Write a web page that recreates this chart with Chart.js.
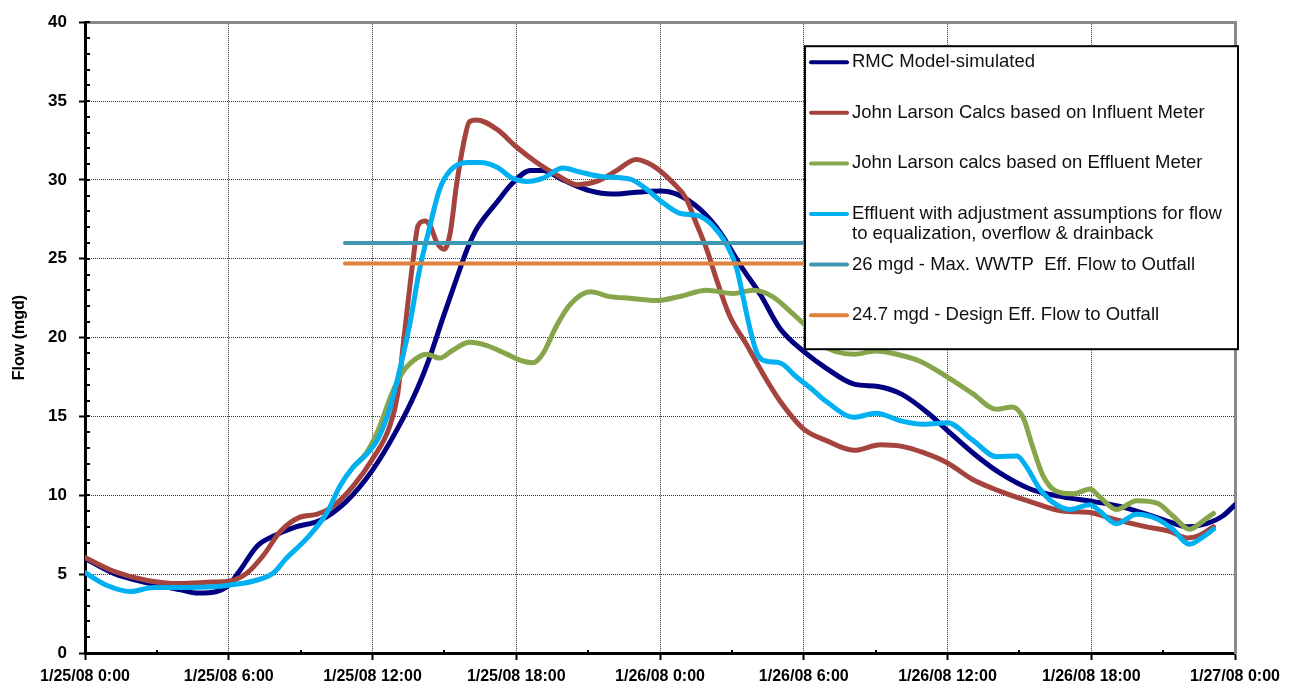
<!DOCTYPE html>
<html>
<head>
<meta charset="utf-8">
<title>Flow (mgd)</title>
<script src="https://cdn.jsdelivr.net/npm/chart.js@4.4.1/dist/chart.umd.min.js"></script>
<style>
  html, body { margin: 0; padding: 0; background: #fff; }
  #wrap { width: 1295px; height: 688px; }
</style>
</head>
<body>
<div id="wrap"><canvas id="flowChart" width="1295" height="688"></canvas></div>
<script>
// x values are hours after 1/25/08 0:00, y values are flow in mgd
const xTickLabels = [
  '1/25/08 0:00', '1/25/08 6:00', '1/25/08 12:00', '1/25/08 18:00',
  '1/26/08 0:00', '1/26/08 6:00', '1/26/08 12:00', '1/26/08 18:00',
  '1/27/08 0:00'
];

const seriesNames = [
  'RMC Model-simulated',
  'John Larson Calcs based on Influent Meter',
  'John Larson calcs based on Effluent Meter',
  'Effluent with adjustment assumptions for flow\nto equalization, overflow & drainback',
  '26 mgd - Max. WWTP  Eff. Flow to Outfall',
  '24.7 mgd - Design Eff. Flow to Outfall'
];

const rmcHours = [0, 1.2, 2.6, 4.0, 4.7, 5.5, 6.0, 6.45, 7.2, 7.85, 8.8, 9.8, 10.9, 12.0, 13.0, 13.85, 14.4, 14.95, 15.5, 15.95,
  16.35, 17.2, 17.85, 18.6, 19.1, 19.95, 21.1, 22.0, 22.9, 24.0, 24.7, 25.7, 26.5, 27.35, 28.2, 29.0, 30.1, 30.9, 32.1, 33.1,
  34.1, 35.2, 36.0, 37.05, 38.2, 39.45, 40.8, 42.1, 43.2, 44.3, 45.3, 46.0, 46.8, 47.5, 48];
const rmcFlow = [6.0, 5.05, 4.45, 4.0, 3.8, 3.9, 4.3, 5.2, 6.8, 7.4, 8.0, 8.4, 9.6, 11.6, 14.1, 16.7, 18.8, 21.3, 23.7, 25.6,
  26.9, 28.6, 29.8, 30.6, 30.6, 30.0, 29.3, 29.1, 29.2, 29.3, 29.1, 28.1, 26.7, 24.6, 22.7, 20.6, 19.0, 18.1, 17.05, 16.9,
  16.4, 15.2, 14.1, 12.7, 11.4, 10.4, 9.9, 9.6, 9.3, 8.8, 8.3, 8.0, 8.2, 8.7, 9.4];

const influentHours = [0, 1.17, 2.6, 3.95, 5.35, 6.0, 6.75, 7.45, 8.15, 8.95, 9.7, 10.35, 11.2, 12.0, 12.7, 13.05, 13.3, 13.7, 13.9, 14.2,
  14.4, 14.7, 15.0, 15.25, 15.5, 15.8, 16.05, 16.35, 17.2, 18.0, 18.85, 19.7, 20.55, 21.35, 22.2, 23.0, 23.7, 24.55, 25.1, 25.5,
  25.95, 26.4, 26.9, 27.6, 28.3, 29.0, 30.0, 30.9, 32.1, 33.2, 34.1, 35.0, 36.0, 37.05, 38.2, 39.45, 40.8, 42.0, 42.9, 44.3,
  45.3, 46.0, 46.5, 47.1];
const influentFlow = [6.05, 5.2, 4.6, 4.4, 4.5, 4.55, 5.05, 6.2, 7.7, 8.6, 8.8, 9.3, 10.6, 12.3, 14.3, 16.4, 19.8, 25.0, 27.1, 27.4,
  27.1, 26.0, 25.6, 26.7, 29.6, 32.3, 33.7, 33.8, 33.2, 32.1, 31.1, 30.3, 29.7, 29.9, 30.6, 31.3, 30.9, 29.8, 28.8, 27.3,
  25.6, 23.5, 21.4, 19.6, 17.7, 16.0, 14.2, 13.5, 12.85, 13.2, 13.1, 12.7, 12.05, 11.0, 10.25, 9.6, 9.0, 8.9, 8.5, 8.0,
  7.7, 7.3, 7.45, 8.0];

const effluentHours = [11.2, 11.75, 12.2, 12.85, 13.3, 13.85, 14.25, 14.8, 15.35, 16.05, 16.75, 17.6, 18.3, 18.7, 19.1, 19.7, 20.25, 21.1, 21.9, 22.75,
  23.85, 24.8, 25.95, 27.05, 27.9, 28.7, 29.55, 30.05, 30.8, 32.1, 33.0, 34.0, 34.85, 36.0, 37.05, 38.05, 38.7, 39.15, 39.55, 40.0,
  40.55, 41.25, 41.95, 42.35, 43.05, 43.9, 44.75, 45.4, 46.1, 46.65, 47.1];
const effluentFlow = [11.8, 12.7, 14.0, 16.6, 17.9, 18.7, 18.95, 18.7, 19.2, 19.7, 19.5, 18.95, 18.5, 18.4, 18.95, 20.8, 22.1, 22.9, 22.6, 22.5,
  22.35, 22.6, 23.0, 22.8, 23.0, 22.6, 21.5, 20.8, 19.5, 18.95, 19.15, 18.9, 18.5, 17.5, 16.45, 15.45, 15.6, 14.95, 13.1, 11.2,
  10.25, 10.1, 10.4, 9.9, 9.1, 9.65, 9.5, 8.7, 7.85, 8.35, 8.85];

const adjustedHours = [0, 0.9, 1.9, 2.85, 3.95, 5.35, 6.0, 7.0, 7.85, 8.4, 9.25, 10.1, 10.65, 11.2, 11.75, 12.2, 12.7, 13.0, 13.55, 13.95,
  14.4, 14.8, 15.25, 15.95, 16.5, 17.2, 17.85, 18.45, 19.1, 19.95, 20.65, 21.6, 22.75, 23.45, 24.0, 24.8, 25.65, 26.2, 26.8, 27.2,
  27.45, 27.75, 28.05, 28.45, 29.0, 29.7, 30.4, 30.9, 32.1, 33.0, 34.1, 35.0, 36.0, 37.05, 38.05, 38.9, 39.3, 39.85, 40.4, 41.1,
  41.95, 42.35, 43.05, 43.9, 44.75, 45.4, 46.1, 46.65, 47.1];
const adjustedFlow = [5.1, 4.3, 3.9, 4.15, 4.15, 4.2, 4.3, 4.55, 5.05, 6.0, 7.25, 8.9, 10.6, 11.8, 12.6, 13.5, 15.4, 17.1, 20.8, 24.2,
  27.1, 29.4, 30.6, 31.1, 31.1, 30.8, 30.1, 29.9, 30.1, 30.75, 30.5, 30.2, 30.05, 29.4, 28.7, 27.9, 27.7, 27.1, 25.85, 24.4,
  22.7, 20.6, 19.0, 18.5, 18.4, 17.5, 16.65, 16.0, 14.95, 15.2, 14.7, 14.5, 14.6, 13.5, 12.45, 12.5, 11.8, 10.4, 9.55, 9.1,
  9.4, 9.0, 8.2, 8.8, 8.5, 7.85, 6.9, 7.35, 7.85];

const limitHours = [10.85, 48];
const maxFlow = [26, 26];
const designFlow = [24.7, 24.7];

const colors = ['#000080', '#A5443F', '#87A54A', '#00B0F0', '#4197B0', '#E0813C'];

function pts(hours, flows) {
  return hours.map((h, i) => ({ x: h, y: flows[i] }));
}

function curve(i, hours, flows) {
  return {
    label: seriesNames[i],
    data: pts(hours, flows),
    borderColor: colors[i],
    backgroundColor: colors[i],
    borderWidth: 5,
    pointRadius: 0,
    cubicInterpolationMode: 'monotone',
    borderCapStyle: 'round',
    borderJoinStyle: 'round',
    order: 6 - i  // later series sit on top
  };
}

function level(i, flows) {
  return {
    label: seriesNames[i],
    data: pts(limitHours, flows),
    borderColor: colors[i],
    backgroundColor: colors[i],
    borderWidth: 4,
    pointRadius: 0,
    borderCapStyle: 'round',
    order: 6 - i
  };
}

// minor ticks + boxed legend inside the plot
const chartExtras = {
  id: 'chartExtras',
  beforeDatasetsDraw(chart) {
    const { ctx, scales: { x, y } } = chart;
    ctx.save();
    ctx.strokeStyle = '#000';
    ctx.lineWidth = 2;
    ctx.beginPath();
    for (let v = 0; v <= 40; v++) {
      const py = Math.round(y.getPixelForValue(v));
      ctx.moveTo(x.left, py);
      ctx.lineTo(x.left + 5, py);
    }
    for (let h = 3; h < 48; h += 6) {
      const px = Math.round(x.getPixelForValue(h));
      ctx.moveTo(px, y.bottom);
      ctx.lineTo(px, y.bottom - 3);
    }
    ctx.stroke();
    ctx.restore();
  },
  afterDraw(chart) {
    const { ctx, chartArea } = chart;
    const left = chartArea.right - 430;
    const top = chartArea.top + 24;
    const w = 433, h = 303;
    ctx.save();
    ctx.fillStyle = '#fff';
    ctx.fillRect(left, top, w, h);
    ctx.lineWidth = 2;
    ctx.strokeStyle = '#000';
    ctx.strokeRect(left, top, w, h);

    ctx.font = '18.5px Arial, "Liberation Sans", sans-serif';
    ctx.textBaseline = 'middle';
    ctx.textAlign = 'left';
    chart.data.datasets.forEach((ds, i) => {
      const cy = top + 16 + i * 50.6;
      ctx.strokeStyle = ds.borderColor;
      ctx.lineWidth = 4;
      ctx.lineCap = 'round';
      ctx.beginPath();
      ctx.moveTo(left + 6, cy);
      ctx.lineTo(left + 42, cy);
      ctx.stroke();
      ctx.fillStyle = '#111';
      ds.label.split('\n').forEach((line, k) => {
        ctx.fillText(line, left + 47, cy + k * 20);
      });
    });
    ctx.restore();
  }
};

const tickFont = { family: 'Arial, "Liberation Sans", sans-serif', weight: 'bold' };

new Chart(document.getElementById('flowChart'), {
  type: 'line',
  data: {
    datasets: [
      curve(0, rmcHours, rmcFlow),
      curve(1, influentHours, influentFlow),
      curve(2, effluentHours, effluentFlow),
      curve(3, adjustedHours, adjustedFlow),
      level(4, maxFlow),
      level(5, designFlow)
    ]
  },
  options: {
    responsive: false,
    devicePixelRatio: 1,
    animation: false,
    layout: { padding: { top: 17, right: 60, bottom: 0, left: 0 } },
    plugins: {
      legend: { display: false },
      tooltip: { enabled: false }
    },
    scales: {
      x: {
        type: 'linear',
        position: 'bottom',
        min: 0,
        max: 48,
        ticks: {
          stepSize: 6,
          autoSkip: false,
          maxRotation: 0,
          padding: 7,
          color: '#000',
          font: { ...tickFont, size: 16 },
          callback: (v) => xTickLabels[Math.round(v / 6)]
        },
        grid: { color: '#333', lineWidth: 1, tickLength: 7, tickColor: '#000', tickWidth: 2 },
        border: { color: '#000', width: 3, dash: [1, 1] },
        afterFit: (s) => { s.height = 35; }
      },
      xTop: {
        type: 'linear',
        position: 'top',
        min: 0,
        max: 48,
        ticks: { display: false },
        grid: { display: false, drawTicks: false },
        border: { color: '#8a8a8a', width: 3 },
        afterFit: (s) => { s.height = 0; }
      },
      y: {
        position: 'left',
        min: 0,
        max: 40,
        ticks: {
          stepSize: 5,
          padding: 12,
          color: '#000',
          font: { ...tickFont, size: 17 }
        },
        grid: { color: '#333', lineWidth: 1, tickLength: 6, tickColor: '#000', tickWidth: 2 },
        border: { color: '#000', width: 3, dash: [1, 1] },
        title: {
          display: true,
          text: 'Flow (mgd)',
          color: '#000',
          font: { ...tickFont, size: 16 },
          padding: { top: 10, bottom: 0 }
        },
        afterFit: (s) => { s.width = 85; }
      },
      yRight: {
        position: 'right',
        min: 0,
        max: 40,
        ticks: { display: false },
        grid: { display: false, drawTicks: false },
        border: { color: '#8a8a8a', width: 3 },
        afterFit: (s) => { s.width = 0; }
      }
    }
  },
  plugins: [chartExtras]
});
</script>
</body>
</html>
